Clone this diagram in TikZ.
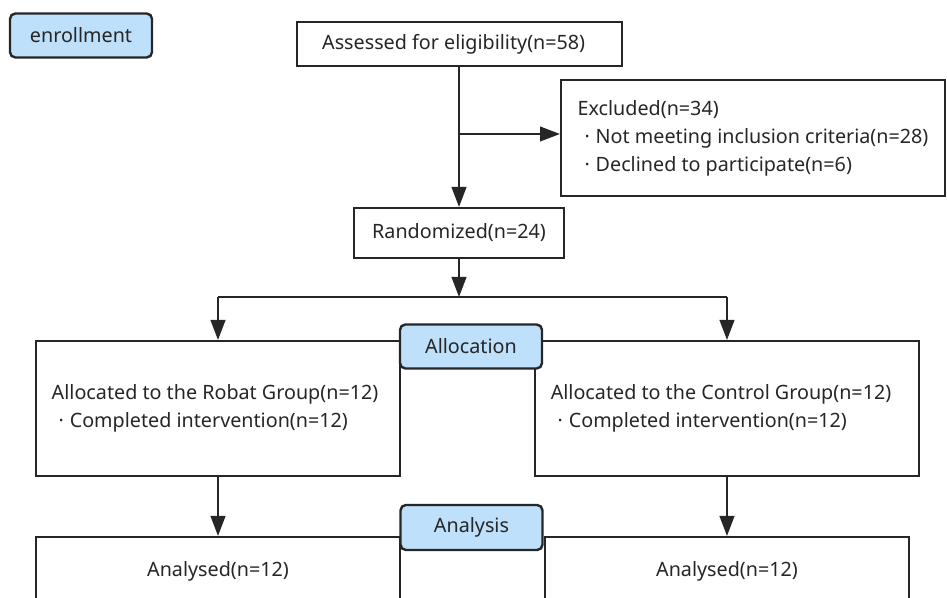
\documentclass[tikz,border=0pt]{standalone}
\usepackage{fontspec}
\setmainfont{Noto Sans}
\usepackage{tikz}
\usetikzlibrary{arrows.meta}
\definecolor{stageblue}{RGB}{190,224,250}
\definecolor{linedark}{RGB}{38,38,38}

\begin{document}
\begin{tikzpicture}[
    x=0.75pt, y=-0.75pt,
    every node/.style={font=\fontsize{14.8}{21}\selectfont, text=black!85},
    flowbox/.style={shape=rectangle, draw=linedark, line width=1.5pt, fill=white, inner sep=0pt},
    stagelabel/.style={shape=rectangle, rounded corners=4pt, draw=linedark, line width=1.8pt, fill=stageblue, inner sep=0pt, minimum width=106.5pt, minimum height=33pt},
    flowline/.style={color=linedark, line width=1.5pt},
    flowarrow/.style={flowline, -{Triangle[length=15pt, width=11pt]}},
]
\useasboundingbox (0, 0) rectangle (947, 598);
\clip (0, 0) rectangle (947, 598);

\node[stagelabel] (enroll) at (81, 35.5) {enrollment};
\node[flowbox, minimum width=243.75pt, minimum height=33pt] (assess) at (459, 44) {Assessed for eligibility(n=58)\kern8pt};
\node[flowbox, minimum width=288pt, minimum height=87pt, align=left] (excl) at (753, 138)
    {Excluded(n=34)\\
     \hspace{0.35em}·\hspace{0.3em}Not meeting inclusion criteria(n=28)\\
     \hspace{0.35em}·\hspace{0.3em}Declined to participate(n=6)};
\node[flowbox, minimum width=157.5pt, minimum height=37.5pt] (rand) at (459, 233) {Randomized(n=24)};

\node[flowbox, minimum width=273pt, minimum height=101.25pt, align=left] (robotgroup) at (218, 408.5)
    {Allocated to the Robat Group(n=12)\kern4.5pt\\
     \hspace{0.35em}·\hspace{0.3em}Completed intervention(n=12)};
\node[flowbox, minimum width=288pt, minimum height=101.25pt, align=left] (ctrlgroup) at (727, 408.5)
    {Allocated to the Control Group(n=12)\kern9pt\\
     \hspace{0.35em}·\hspace{0.3em}Completed intervention(n=12)};
\node[stagelabel] (alloc) at (471, 346.5) {Allocation};

\node[flowbox, minimum width=273pt, minimum height=51pt] (analrobot) at (218, 571) {Analysed(n=12)};
\node[flowbox, minimum width=273pt, minimum height=51pt] (analctrl) at (727, 571) {Analysed(n=12)};
\node[stagelabel, minimum height=33.75pt] (analysis) at (471.5, 527.5) {Analysis};

\coordinate (exclsplit) at (459, 134);
\coordinate (fork) at (459, 297);
\coordinate (forkl) at (218, 297);
\coordinate (forkr) at (727, 297);

\draw[flowarrow] (exclsplit) -- (exclsplit -| excl.west);
\draw[flowline] (forkl) -- (forkr);
\path[flowarrow]
    (assess.south) edge (rand.north)
    (rand.south) edge (fork)
    (forkl) edge (robotgroup.north)
    (forkr) edge (ctrlgroup.north)
    (robotgroup.south) edge (analrobot.north)
    (ctrlgroup.south) edge (analctrl.north)
;
\end{tikzpicture}
\end{document}
